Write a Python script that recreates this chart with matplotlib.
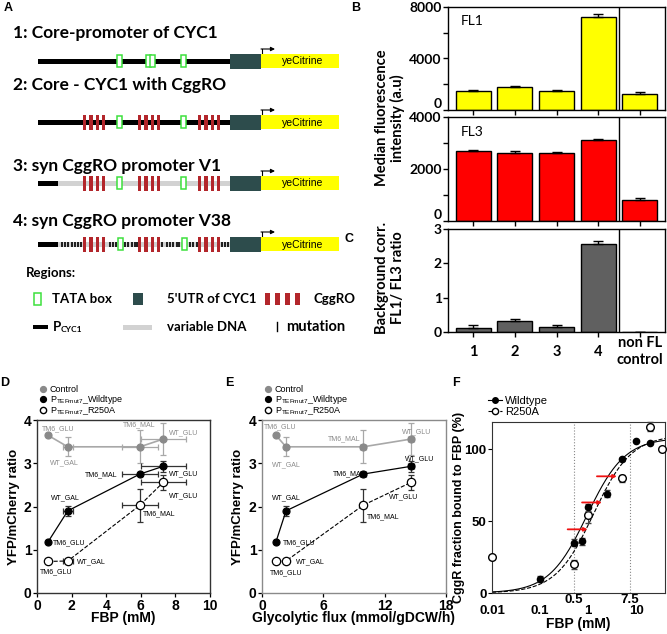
import matplotlib
matplotlib.use('Agg')
import matplotlib.pyplot as plt
import matplotlib.transforms as mtransforms
from matplotlib.patches import Rectangle
from matplotlib.lines import Line2D
import numpy as np

W, H = 667, 634
CAL = 'Lato'              # Calibri-like text (panels A-C)
ARL = 'Liberation Sans'   # Arial-like text (panels D-F)
plt.rcParams['font.family'] = CAL

# ---------------- panel A (schematic) ----------------
rows = ['1: Core-promoter of CYC1', '2: Core - CYC1 with CggRO',
        '3: syn CggRO promoter V1', '4: syn CggRO promoter V38']
row_title_y = [33, 85, 166, 221]
row_line_y = [61, 122, 183, 244]
row_tata = [[119, 148, 152, 183], [119, 183], [119, 183], [120, 184]]
row_cggro = [[], [83, 138, 198], [83, 138, 198], [83, 138, 198]]
row_variable = [False, False, True, True]
mutations = [62, 65, 68, 72, 75, 78, 81, 110, 113, 116, 125, 128, 132, 135, 137,
             162, 167, 170, 173, 177, 179, 190, 193, 197, 222, 225, 228]

# ---------------- panels B / C ----------------
b_labels = ['1', '2', '3', '4', 'non FL\ncontrol']
fl1 = [1500, 1800, 1500, 7200, 1250]
fl1_err = [50, 70, 40, 280, 120]
fl3 = [2700, 2600, 2600, 3100, 820]
fl3_err = [40, 80, 40, 50, 60]
ratio = [0.11, 0.32, 0.14, 2.57, 0]
ratio_err = [0.08, 0.07, 0.07, 0.07, 0]

# ---------------- panels D / E ----------------
conds = ['TM6_GLU', 'WT_GAL', 'TM6_MAL', 'WT_GLU']
fbp = [0.62, 1.78, 5.95, 7.3]
fbp_err = [0, 0.28, 1.05, 1.3]
flux = [1.35, 2.35, 9.9, 14.6]
flux_err = [0, 0, 0.3, 0.3]
ctrl = [3.65, 3.38, 3.38, 3.56]
ctrl_err = [0, 0.22, 0.38, 0.38]
wt = [1.17, 1.9, 2.75, 2.93]
wt_err = [0, 0.11, 0.05, 0.13]
r250a = [0.73, 0.74, 2.03, 2.56]
r250a_err = [0, 0, 0.38, 0.17]

# label anchors (left edge, centre) per series, in data units
d_lab = {'ctrl': [(0.29, 3.79), (0.75, 3.0), (4.97, 3.88), (7.6, 3.7)],
         'wt': [(0.93, 1.15), (0.8, 2.2), (2.77, 2.73), (7.6, 2.75)],
         'r250a': [(0.17, 0.48), (2.3, 0.72), (6.1, 1.83), (7.6, 2.24)]}
e_lab = {'ctrl': [(0.2, 3.84), (1.0, 2.96), (6.4, 3.56), (13.7, 3.72)],
         'wt': [(2.0, 1.16), (1.0, 2.2), (6.9, 2.75), (14.0, 3.1)],
         'r250a': [(0.8, 0.47), (3.3, 0.72), (10.3, 1.76), (12.4, 2.22)]}

# ---------------- panel F ----------------
f_wt_x = [0.1, 0.5, 0.76, 1.0, 2.46, 5.0, 9.8, 19.8]
f_wt_y = [9.5, 35, 36, 59.6, 69, 93, 106, 104.5]
f_wt_err = [2, 2.5, 2.5, 2.5, 2.5, 1, 0, 0]
f_r_x = [0.01, 0.5, 1.0, 5.0, 19.8, 35]
f_r_y = [25, 20, 54, 79.7, 115.8, 100]
f_r_err = [1.5, 3, 5, 2.5, 3, 0]
fit_wt = (108, 0.95, 1.1)      # Bmax, K, Hill n
fit_r = (110, 1.3, 1.1)
f_arrows = [(0.376, 0.98, 44.3), (0.75, 1.94, 63), (1.53, 3.98, 81.2)]


def px(l, t, r, b):
    return [l / W, 1 - b / H, (r - l) / W, (b - t) / H]


fig = plt.figure(figsize=(W / 100, H / 100), dpi=100)

# background axes in pixel coordinates for the schematic and panel letters
bg = fig.add_axes([0, 0, 1, 1])
bg.set_xlim(0, W)
bg.set_ylim(H, 0)
bg.axis('off')

TEAL = '#2d4c4c'
CRED = '#b3262b'
TGRN = '#3de03d'


def tata(x, y, w=5, h=12):
    bg.add_patch(Rectangle((x - w / 2, y - h / 2), w, h, fc='white', ec=TGRN, lw=1.1, zorder=4))


def cggro(x0, y, n=4, w=3.4, step=6.3, h=15):
    for k in range(n):
        bg.add_patch(Rectangle((x0 + k * step, y - h / 2), w, h, fc=CRED, ec='none', zorder=3))


for i, title in enumerate(rows):
    y = row_line_y[i]
    bg.text(13, row_title_y[i], title, fontsize=12.5, fontweight='bold', va='center', ha='left')
    if row_variable[i]:
        bg.add_patch(Rectangle((38, y - 2.5), 20, 5, fc='black', ec='none', zorder=2))
        bg.add_patch(Rectangle((58, y - 2.5), 172, 5, fc='#d2d2d2', ec='none', zorder=2))
        if i == 3:
            for m in mutations:
                bg.add_patch(Rectangle((m - 0.8, y - 2.5), 1.6, 5, fc='#222222', ec='none', zorder=2.5))
    else:
        bg.add_patch(Rectangle((38, y - 2.5), 192, 5, fc='black', ec='none', zorder=2))
    for g in row_cggro[i]:
        cggro(g, y)
    for t in row_tata[i]:
        tata(t, y)
    bg.add_patch(Rectangle((230, y - 7.5), 31, 15, fc=TEAL, ec='none', zorder=3))
    bg.add_patch(Rectangle((261, y - 7), 78, 14, fc='#ffff00', ec='none', zorder=3))
    bg.text(303, y + 0.5, 'yeCitrine', fontsize=7.5, family=ARL, ha='center', va='center', zorder=5)
    bg.plot([261.5, 261.5], [y - 7.5, y - 12], color='black', lw=0.8)
    bg.annotate('', xy=(275, y - 12), xytext=(261, y - 12),
                arrowprops=dict(arrowstyle='-|>', lw=0.8, color='black', mutation_scale=6,
                                shrinkA=0, shrinkB=0))

# legend of regions
bg.text(26, 273, 'Regions:', fontsize=9.5, fontweight='bold', va='center')
tata(37, 299, w=7, h=12)
bg.text(52, 299, 'TATA box', fontsize=9.5, fontweight='bold', va='center')
bg.add_patch(Rectangle((133, 293), 10, 12, fc=TEAL, ec='none'))
bg.text(167, 299, "5'UTR of CYC1", fontsize=9.5, fontweight='bold', va='center')
cggro(265, 299, w=5, step=10, h=12)
bg.text(313, 299, 'CggRO', fontsize=9.5, fontweight='bold', va='center')
bg.add_patch(Rectangle((33, 325), 15, 4, fc='black', ec='none'))
bg.text(53, 327, 'P', fontsize=9.5, fontweight='bold', va='center')
bg.text(60.5, 330, 'CYC1', fontsize=6, fontweight='bold', va='center')
bg.add_patch(Rectangle((123, 324.5), 29, 5, fc='#d2d2d2', ec='none'))
bg.text(167, 327, 'variable DNA', fontsize=9.5, fontweight='bold', va='center')
bg.plot([277, 277], [322, 331], color='black', lw=1)
bg.text(286, 327, 'mutation', fontsize=10.5, fontweight='bold', va='center')

# panel letters
for lab, x, y, fam in [('A', 8, 8, ARL), ('B', 356, 8, ARL), ('C', 349, 239, ARL),
                       ('D', 5, 383, ARL), ('E', 229, 383, ARL), ('F', 456, 383, ARL)]:
    bg.text(x, y, lab, fontsize=9, fontweight='bold', family=fam, ha='center', va='center')

# ---------------- panels B / C ----------------
xb = np.arange(len(b_labels))
bar_axes = []
for rect, vals, errs, col, lim, ticks, minor, name in [
        ((448, 7, 665, 110), fl1, fl1_err, '#ffff00', 8000, [0, 4000, 8000], [2000, 6000], 'FL1'),
        ((448, 117, 665, 221), fl3, fl3_err, '#ff0000', 4000, [0, 2000, 4000], [1000, 3000], 'FL3'),
        ((448, 229, 665, 332), ratio, ratio_err, '#606060', 3, [0, 1, 2, 3], [], None)]:
    ax = fig.add_axes(px(*rect))
    ax.bar(xb, vals, width=0.84, color=col, edgecolor='black', linewidth=1, zorder=2)
    ax.errorbar(xb, vals, yerr=[np.zeros(len(errs)), errs], fmt='none', ecolor='black',
                elinewidth=1, capsize=3.5, capthick=1, zorder=3)
    ax.axvline(3.5, color='black', lw=1)
    ax.set_xlim(-0.6, 4.6)
    ax.set_ylim(0, lim)
    ax.set_yticks(ticks)
    ax.set_yticks(minor, minor=True)
    ax.set_xticks(xb)
    ax.set_xticklabels([])
    ax.tick_params(axis='both', which='both', direction='out', length=3.5, width=1, pad=1,
                   labelsize=10)
    for t in ax.get_yticklabels():
        t.set_fontweight('bold')
    if name:
        # the zero label sits just above the panel boundary, as in the original
        ax.get_yticklabels()[0].set_verticalalignment('bottom')
    for s in ax.spines.values():
        s.set_linewidth(1)
    if name:
        ax.text(0.06, 0.86, name, transform=ax.transAxes, fontsize=10, va='center')
    bar_axes.append(ax)

axc = bar_axes[2]
trans = mtransforms.blended_transform_factory(axc.transData, axc.transAxes)
for x, lab in zip(xb, b_labels):
    axc.text(x, -0.19, lab, transform=trans, ha='center', va='center', fontsize=10.5,
             fontweight='bold', linespacing=1.35)

fig.text(390 / W, 1 - 118 / H, 'Median fluorescence\nintensity (a.u)', rotation=90,
         ha='center', va='center', fontsize=10.5, fontweight='bold', linespacing=1.15)
fig.text(390 / W, 1 - 278 / H, 'Background corr.\nFL1/ FL3 ratio', rotation=90,
         ha='center', va='center', fontsize=10.5, fontweight='bold', linespacing=1.15)

# ---------------- panels D / E ----------------
GRAY_M = '#8a8a8a'
GRAY_L = '#a8a8a8'


def trend_panel(rect, xs, xerr, xlim, xticks, xlabel, labs, spine_col):
    ax = fig.add_axes(px(*rect))
    styles = {
        'ctrl': dict(y=ctrl, e=ctrl_err, lc=GRAY_L, ls='-', lw=1.2, mfc=GRAY_M, mec=GRAY_M,
                     ms=5, ec=GRAY_L, tc=GRAY_M),
        'wt': dict(y=wt, e=wt_err, lc='black', ls='-', lw=0.9, mfc='black', mec='black',
                   ms=5, ec='#333333', tc='black'),
        'r250a': dict(y=r250a, e=r250a_err, lc='black', ls='--', lw=0.8, mfc='white',
                      mec='black', ms=6, ec='#333333', tc='black'),
    }
    for key, st in styles.items():
        ax.errorbar(xs, st['y'], xerr=xerr, yerr=st['e'], fmt='none', ecolor=st['ec'],
                    elinewidth=0.9, capsize=2.5, capthick=0.9, zorder=2)
        ax.plot(xs, st['y'], ls=st['ls'], color=st['lc'], lw=st['lw'], marker='o',
                ms=st['ms'], mfc=st['mfc'], mec=st['mec'], mew=0.9, zorder=3)
        for (lx, ly), c in zip(labs[key], conds):
            ax.text(lx, ly, c, fontsize=5, family=ARL, color=st['tc'], ha='left', va='center')
    ax.set_xlim(*xlim)
    ax.set_ylim(0, 4)
    ax.set_xticks(xticks)
    ax.set_yticks([0, 1, 2, 3, 4])
    ax.tick_params(direction='out', length=3, width=0.9, pad=1, labelsize=10,
                   labelfontfamily=ARL, colors='black')
    for t in ax.get_xticklabels() + ax.get_yticklabels():
        t.set_fontweight('bold')
    for s in ax.spines.values():
        s.set_color(spine_col)
        s.set_linewidth(1)
    ax.set_ylabel('YFP/mCherry ratio', fontsize=9.5, fontweight='bold', family=ARL)
    ax.yaxis.set_label_coords(-0.10, 0.5)
    ax.set_xlabel(xlabel, fontsize=10, fontweight='bold', family=ARL)
    ax.xaxis.set_label_coords(0.5, -0.105)
    handles = [Line2D([], [], ls='none', marker='o', ms=4.2, mfc=GRAY_M, mec=GRAY_M),
               Line2D([], [], ls='none', marker='o', ms=4.2, mfc='black', mec='black'),
               Line2D([], [], ls='none', marker='o', ms=4.5, mfc='white', mec='black')]
    labels = ['Control', r'P$_\mathregular{TEFmut7}$_Wildtype', r'P$_\mathregular{TEFmut7}$_R250A']
    ax.legend(handles, labels, loc='upper left', bbox_to_anchor=(-0.02, 1.24), frameon=False,
              prop=dict(family=ARL, size=6.5), handlelength=0.7, handletextpad=0.4,
              labelspacing=-0.12, borderpad=0.2)
    return ax


trend_panel((37, 420, 210, 593), fbp, fbp_err, (0, 10), [0, 2, 4, 6, 8, 10], 'FBP (mM)',
            d_lab, '#333333')
trend_panel((262, 420, 446, 593), flux, flux_err, (0, 18), [0, 6, 12, 18],
            'Glycolytic flux (mmol/gDCW/h)', e_lab, '#8a8a8a')

# ---------------- panel F ----------------
axf = fig.add_axes(px(492, 422, 665, 593))
axf.set_xscale('log')
xc = np.logspace(-2, np.log10(40), 200)
for (bmax, k, n), ls in [(fit_wt, '-'), (fit_r, '--')]:
    axf.plot(xc, bmax * xc ** n / (k ** n + xc ** n), ls=ls, color='black', lw=0.8, zorder=2)
axf.errorbar(f_wt_x, f_wt_y, yerr=f_wt_err, fmt='o', ms=4.5, color='black', ecolor='#444444',
             elinewidth=0.8, capsize=2, zorder=4)
axf.errorbar(f_r_x, f_r_y, yerr=f_r_err, fmt='o', ms=5.5, mfc='white', mec='black',
             ecolor='#444444', elinewidth=0.8, capsize=2, zorder=3, clip_on=False)
for v in [0.5, 7.5]:
    axf.axvline(v, color='#888888', lw=0.8, ls=':', zorder=1)
for x0, x1, y in f_arrows:
    axf.annotate('', xy=(x1, y), xytext=(x0, y),
                 arrowprops=dict(arrowstyle='-|>', color='#ee1111', lw=1.3, mutation_scale=5,
                                 shrinkA=0, shrinkB=0), zorder=5)
axf.set_xlim(0.01, 40)
axf.set_ylim(0, 119)
axf.set_xticks([0.01, 0.1, 1, 10])
axf.set_xticklabels(['0.01', '0.1', '1', '10'])
axf.xaxis.set_minor_locator(matplotlib.ticker.NullLocator())
axf.set_yticks([0, 50, 100])
axf.tick_params(axis='x', length=0, pad=9, labelsize=9.5, labelfontfamily=ARL)
axf.tick_params(axis='y', direction='out', length=3, pad=1, labelsize=9.5, labelfontfamily=ARL)
for t in axf.get_xticklabels() + axf.get_yticklabels():
    t.set_fontweight('bold')
for s in axf.spines.values():
    s.set_color('#333333')
ftrans = mtransforms.blended_transform_factory(axf.transData, axf.transAxes)
for v in ['0.5', '7.5']:
    axf.text(float(v), -0.04, v, transform=ftrans, ha='center', va='center', fontsize=9.5,
             fontweight='bold', family=ARL)
axf.set_ylabel('CggR fraction bound to FBP (%)', fontsize=9, fontweight='bold', family=ARL)
axf.yaxis.set_label_coords(-0.155, 0.5)
axf.set_xlabel('FBP (mM)', fontsize=10, fontweight='bold', family=ARL)
axf.xaxis.set_label_coords(0.5, -0.14)
fh = [Line2D([], [], ls='-', color='black', lw=0.8, marker='o', ms=4),
      Line2D([], [], ls='--', color='black', lw=0.8, marker='o', ms=4.5, mfc='white')]
axf.legend(fh, ['Wildtype', 'R250A'], loc='upper left', bbox_to_anchor=(-0.07, 1.2),
           frameon=False, prop=dict(family=ARL, size=8), handlelength=1.3, handletextpad=0.3,
           labelspacing=0.1, borderpad=0.2)

fig.savefig('out.png', dpi=100)
